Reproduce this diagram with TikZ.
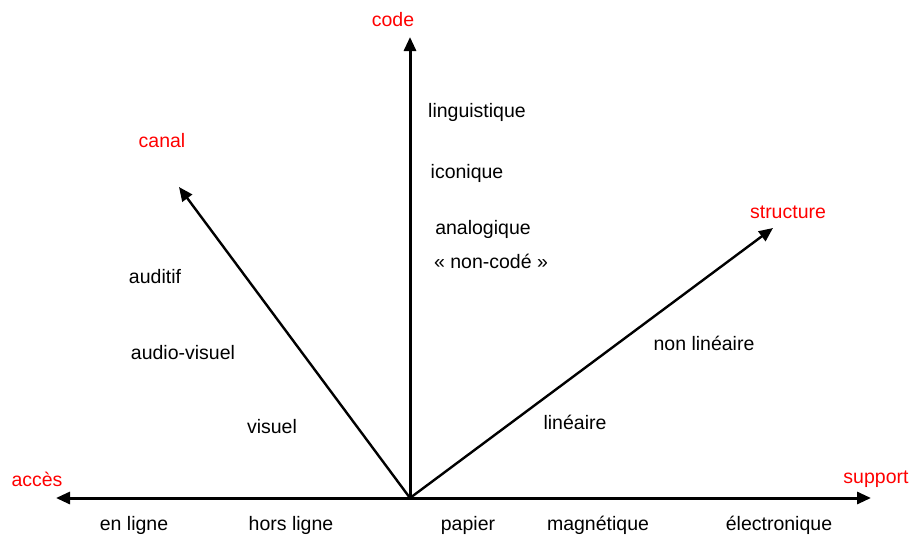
\documentclass[tikz,border=0pt]{standalone}
\usepackage{fontspec}
\setmainfont{Liberation Sans}
\usetikzlibrary{arrows.meta}
\begin{document}
\begin{tikzpicture}[x=1pt,y=-1pt,
  axis/.style={line width=3pt,-{Triangle[length=14pt,width=12pt]}},
  diag/.style={line width=2.4pt,-{Triangle[length=14pt,width=12pt]}},
  lbl/.style={font=\fontsize{19.5}{22}\selectfont,inner sep=0pt},
  axlbl/.style={font=\fontsize{19.5}{22}\selectfont,text=red,inner sep=0pt}]
\useasboundingbox (0,0) rectangle (916,539);
\coordinate (O) at (410,498);
\coordinate (tcode) at (410,37);
\coordinate (tcanal) at (179,187);
\coordinate (tstruct) at (773,228);
\coordinate (tacces) at (56,498);
\coordinate (tsupport) at (871,498);
\draw[axis] (O) -- (tcode);
\draw[axis] (O) -- (tacces);
\draw[axis] (O) -- (tsupport);
\draw[diag] (O) -- (tcanal);
\draw[diag] (O) -- (tstruct);
% axis labels
\node[axlbl] (code) at (393,20) {code};
\node[axlbl] (canal) at (162,141) {canal};
\node[axlbl] (structure) at (788,212) {structure};
\node[axlbl] (acces) at (37,479) {accès};
\node[axlbl] (support) at (876,479) {support};
% values
\node[lbl] (ling) at (477,112) {linguistique};
\node[lbl] (icon) at (467,173) {iconique};
\node[lbl] (analog) at (483,229) {analogique};
\node[lbl] (noncode) at (491,261) {« non-codé »};
\node[lbl] (auditif) at (155,277) {auditif};
\node[lbl] (audiov) at (183,353) {audio-visuel};
\node[lbl] (visuel) at (272,427) {visuel};
\node[lbl] (nonlin) at (704,343) {non linéaire};
\node[lbl] (lin) at (575,422) {linéaire};
\node[lbl] (enligne) at (134,525) {en ligne};
\node[lbl] (horsligne) at (291,525) {hors ligne};
\node[lbl] (papier) at (468,525) {papier};
\node[lbl] (magn) at (598,525) {magnétique};
\node[lbl] (elec) at (779,525) {électronique};
\end{tikzpicture}
\end{document}
